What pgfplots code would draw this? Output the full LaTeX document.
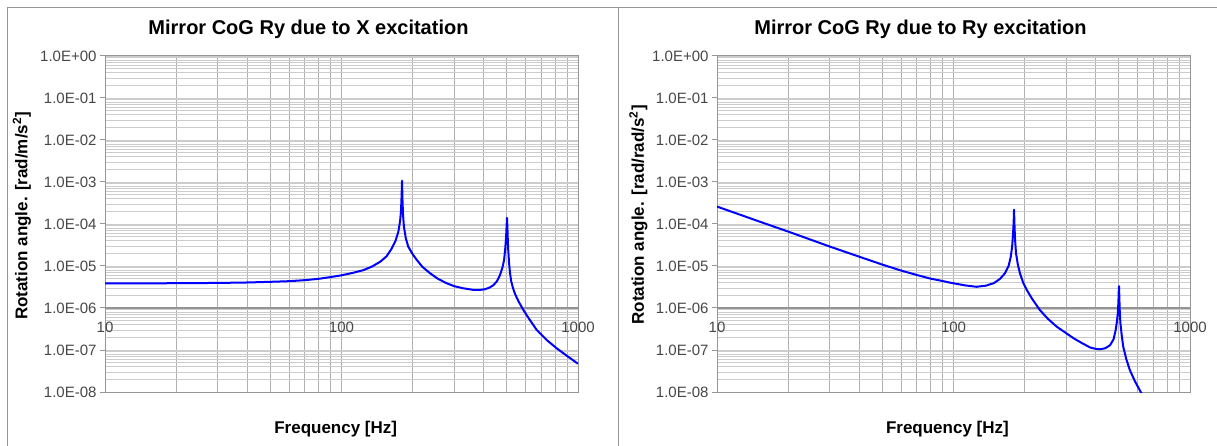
\documentclass[border=0pt]{standalone}
\usepackage{fontspec}
\setmainfont{Liberation Sans}
\usepackage{pgfplots}
\pgfplotsset{compat=1.18}
\definecolor{curve}{RGB}{20,20,230}
\definecolor{frame}{RGB}{150,150,150}
\pgfplotsset{
  every axis/.append style={
  scale only axis, width=473pt, height=336pt,
  xmin=10, xmax=1000, ymin=1e-8, ymax=1,
  xtick={10,100,1000}, xticklabels={10,100,1000},
  minor xtick={20,30,40,50,60,70,80,90,200,300,400,500,600,700,800,900},
  ytick={1e-8,1e-7,1e-6,1e-5,1e-4,1e-3,1e-2,1e-1,1},
  yticklabels={1.0E-08,1.0E-07,1.0E-06,1.0E-05,1.0E-04,1.0E-03,1.0E-02,1.0E-01,1.0E+00},
  minor ytick={2e-8,3e-8,4e-8,5e-8,6e-8,7e-8,8e-8,9e-8,
    2e-7,3e-7,4e-7,5e-7,6e-7,7e-7,8e-7,9e-7,
    2e-6,3e-6,4e-6,5e-6,6e-6,7e-6,8e-6,9e-6,
    2e-5,3e-5,4e-5,5e-5,6e-5,7e-5,8e-5,9e-5,
    2e-4,3e-4,4e-4,5e-4,6e-4,7e-4,8e-4,9e-4,
    2e-3,3e-3,4e-3,5e-3,6e-3,7e-3,8e-3,9e-3,
    2e-2,3e-2,4e-2,5e-2,6e-2,7e-2,8e-2,9e-2,
    2e-1,3e-1,4e-1,5e-1,6e-1,7e-1,8e-1,9e-1},
  grid=both,
  x grid style={draw=gray!62, line width=0.9pt},
  y grid style={draw=gray!40, line width=0.9pt},
  axis line style={draw=frame, line width=1pt},
  tick align=outside, ytick pos=left, xtick pos=bottom,
  major tick length=5pt, minor tick length=0pt,
  xtick style={draw=none},
  ytick style={draw=frame, line width=1pt},
  tick label style={font=\fontsize{15}{17}\selectfont, text=black!72},
  xticklabel style={yshift=79pt},
  anchor=south west,
  },
  every axis plot/.append style={curve, line width=2pt, no marks, line join=round},
}
\begin{document}
\begin{tikzpicture}
\useasboundingbox (0,0) rectangle (1217pt,446pt);
\fill[white] (0,0) rectangle (1217pt,446pt);
\draw[draw=frame, line width=0.9pt] (7pt,-2pt) -- (7pt,439pt) -- (1220pt,439pt);
\draw[draw=frame, line width=0.9pt] (618pt,-2pt) -- (618pt,439pt);

\begin{loglogaxis}[at={(105pt,54pt)}]
\draw[draw=gray!85, line width=1.3pt] (axis cs:10,1e-6) -- (axis cs:1000,1e-6);
\addplot coordinates {
(10,3.85e-6) (15,3.85e-6) (20,3.9e-6) (30,3.95e-6) (40,4.05e-6) (50,4.2e-6)
(60,4.35e-6) (70,4.6e-6) (80,4.95e-6) (89,5.4e-6) (100,6.0e-6) (112,6.9e-6)
(124,8.0e-6) (135,9.8e-6) (146,1.27e-5) (155,1.7e-5) (163,2.6e-5) (169,3.9e-5)
(174,6.6e-5) (177,1.2e-4) (178.5,2.1e-4) (179.5,4.5e-4) (180.3,1.07e-3)
(181,4.0e-4) (182,1.7e-4) (183.7,8.6e-5) (187,4.6e-5) (191.5,2.9e-5)
(200,1.9e-5) (208,1.4e-5) (220,9.5e-6) (237,6.7e-6) (255,5.0e-6) (278,3.9e-6)
(300,3.3e-6) (327,2.95e-6) (361,2.7e-6) (385,2.7e-6) (404,2.8e-6) (422,3.05e-6)
(439,3.5e-6) (455,4.4e-6) (468,6.1e-6) (480,9.5e-6) (487,1.4e-5) (493,2.8e-5)
(497,5.5e-5) (499.5,1.0e-4) (501,1.4e-4) (503,8.0e-5) (505,4.0e-5) (507,2.4e-5)
(511,1.2e-5) (516,6.7e-6) (522,4.3e-6) (530,3.1e-6) (541,2.2e-6) (560,1.45e-6) (588,8.9e-7)
(620,5.6e-7) (669,3.0e-7) (740,1.7e-7) (812,1.1e-7) (900,7.2e-8) (1000,4.7e-8)
};
\end{loglogaxis}

\begin{loglogaxis}[at={(717pt,54pt)}]
\draw[draw=gray!85, line width=1.3pt] (axis cs:10,1e-6) -- (axis cs:1000,1e-6);
\addplot coordinates {
(10,2.6e-4) (12.5,1.67e-4) (15,1.16e-4) (20,6.6e-5) (25,4.2e-5) (30,2.9e-5)
(40,1.66e-5) (50,1.08e-5) (60,7.8e-6) (70,6.1e-6) (80,5.0e-6) (88,4.5e-6)
(97,4.0e-6) (112,3.45e-6) (125,3.2e-6) (137,3.4e-6) (148,3.9e-6) (157,4.9e-6)
(165,6.7e-6) (171,1.0e-5) (174.6,1.66e-5) (177,2.9e-5) (178.6,6.0e-5)
(179.6,1.1e-4) (180.3,2.2e-4) (181,1.0e-4) (182,4.5e-5) (183.8,2.0e-5)
(187,1.1e-5) (191,6.7e-6) (197,4.0e-6) (204,2.7e-6) (215,1.65e-6) (232,8.9e-7)
(250,5.6e-7) (273,3.6e-7) (297,2.6e-7) (322,1.9e-7) (350,1.45e-7) (378,1.15e-7)
(400,1.06e-7) (416,1.04e-7) (438,1.1e-7) (459,1.3e-7) (475,1.8e-7) (485,3.0e-7)
(491,4.8e-7) (495,7.4e-7) (498,1.4e-6) (499.5,2.4e-6) (501,3.3e-6) (503,1.5e-6)
(505,7.5e-7) (508,4.3e-7) (514,2.3e-7) (522,1.2e-7) (538,6.0e-8) (557,3.3e-8)
(585,1.8e-8) (619,1.0e-8) (650,6.5e-9)
};
\end{loglogaxis}

\node[anchor=base, font=\fontsize{20}{22}\selectfont\bfseries] at (308.5pt,411pt) {Mirror CoG Ry due to X excitation};
\node[anchor=base, font=\fontsize{20}{22}\selectfont\bfseries] at (920.5pt,411pt) {Mirror CoG Ry due to Ry excitation};
\node[anchor=base, font=\fontsize{17}{19}\selectfont\bfseries] at (335.7pt,12.6pt) {Frequency [Hz]};
\node[anchor=base, font=\fontsize{17}{19}\selectfont\bfseries] at (947.4pt,12.6pt) {Frequency [Hz]};
\node[rotate=90, font=\fontsize{17}{19}\selectfont\bfseries] at (22pt,230pt) {Rotation angle. [rad/m/s\textsuperscript{2}]};
\node[rotate=90, font=\fontsize{17}{19}\selectfont\bfseries] at (638.5pt,231pt) {Rotation angle. [rad/rad/s\textsuperscript{2}]};
\end{tikzpicture}
\end{document}
